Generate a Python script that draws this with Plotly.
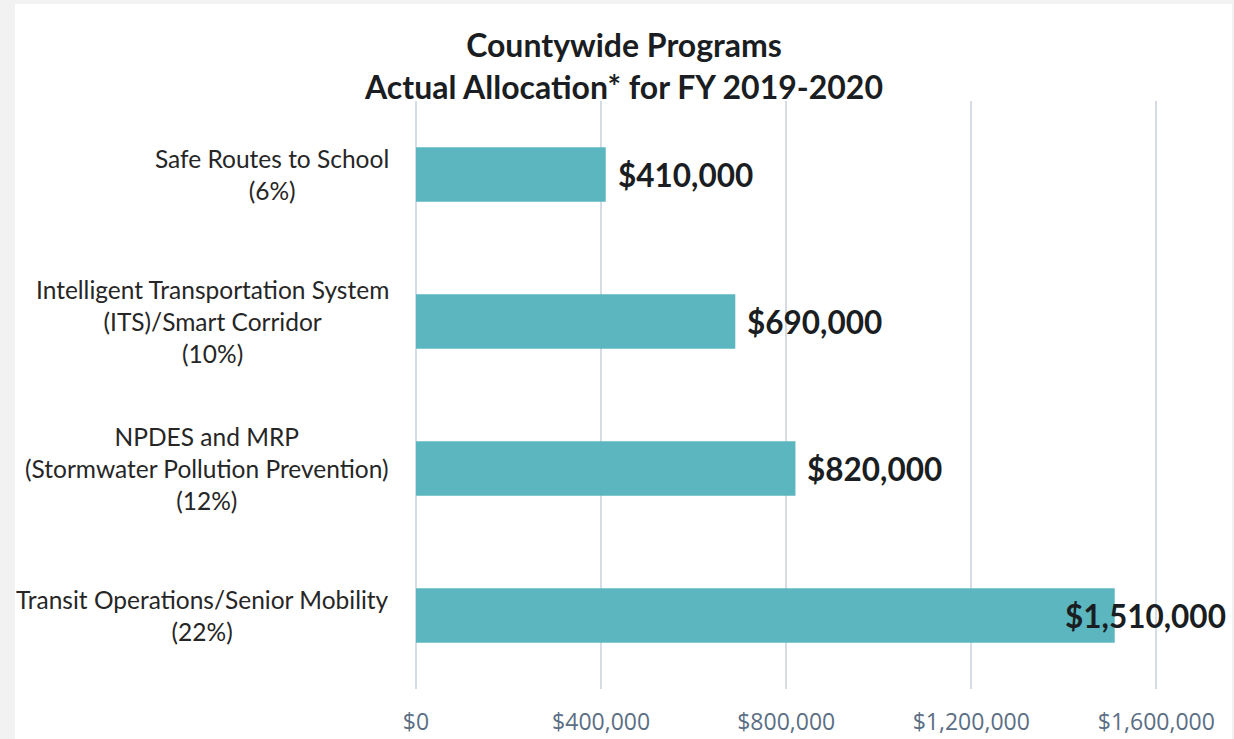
import plotly.graph_objects as go

categories = [
    "Safe Routes to School<br>(6%)",
    "Intelligent Transportation System<br>(ITS)/Smart Corridor<br>(10%)",
    "NPDES and MRP<br>(Stormwater Pollution Prevention)<br>(12%)",
    "Transit Operations/Senior Mobility<br>(22%)",
]
values = [410000, 690000, 820000, 1510000]
value_labels = ["$410,000", "$690,000", "$820,000", "$1,510,000"]
tick_vals = [0, 400000, 800000, 1200000, 1600000]
tick_text = ["$0", "$400,000", "$800,000", "$1,200,000", "$1,600,000"]

W, H = 1234, 739
L, R, T, B = 416, 73, 101, 50
PW, PH = W - L - R, H - T - B

fig = go.Figure()
fig.add_trace(go.Bar(
    y=categories, x=values, orientation="h",
    marker=dict(color="#5BB6C0", line=dict(width=0)),
    width=0.37, hoverinfo="skip",
))

annotations = []
for i, (c, v, t) in enumerate(zip(categories, values, value_labels)):
    if i == len(values) - 1:
        annotations.append(dict(x=v, y=c, xref="x", yref="y", text="<b>" + t + "</b>",
                                showarrow=False, xanchor="right", xshift=113,
                                font=dict(family="Lato", size=31.5, color="#1a1d21")))
    else:
        annotations.append(dict(x=v, y=c, xref="x", yref="y", text="<b>" + t + "</b>",
                                showarrow=False, xanchor="left", xshift=10,
                                font=dict(family="Lato", size=31.5, color="#1a1d21")))
    annotations.append(dict(x=-25 / PW, y=c, xref="paper", yref="y", text=c,
                            showarrow=False, xanchor="right", align="center",
                            font=dict(family="Lato", size=24.5, color="#262626")))

fig.update_layout(
    width=W, height=H,
    margin=dict(l=L, r=R, t=T, b=B, pad=0, autoexpand=False),
    paper_bgcolor="#F2F2F2", plot_bgcolor="rgba(0,0,0,0)",
    showlegend=False,
    title=dict(text="<b>Countywide Programs<br>Actual Allocation* for FY 2019-2020</b>",
               x=624 / W, xanchor="center", y=1 - 57 / H, yanchor="middle",
               font=dict(family="Lato", size=32, color="#1a1d21")),
    shapes=[dict(type="rect", xref="paper", yref="paper", layer="below",
                 x0=-(L - 15) / PW, x1=(1232 - L) / PW,
                 y0=-B / PH, y1=(H - 4 - B) / PH,
                 fillcolor="white", line=dict(width=0))],
    annotations=annotations,
    xaxis=dict(range=[0, 1610000], tickvals=tick_vals, ticktext=tick_text,
               showgrid=True, gridcolor="#D6DCE4", gridwidth=1.5,
               zeroline=True, zerolinecolor="#D6DCE4", zerolinewidth=1.5,
               showline=False, ticks="", ticklabelstandoff=17, automargin=False,
               tickfont=dict(family="Open Sans", size=23, color="#5B6E84"),
               fixedrange=True),
    yaxis=dict(categoryorder="array", categoryarray=categories[::-1],
               range=[-0.5, 3.5], showticklabels=False, showgrid=False,
               zeroline=False, showline=False, fixedrange=True, automargin=False),
)

fig.write_html("out.html", config={"displayModeBar": False},
               post_script="document.body.style.margin='0';")
